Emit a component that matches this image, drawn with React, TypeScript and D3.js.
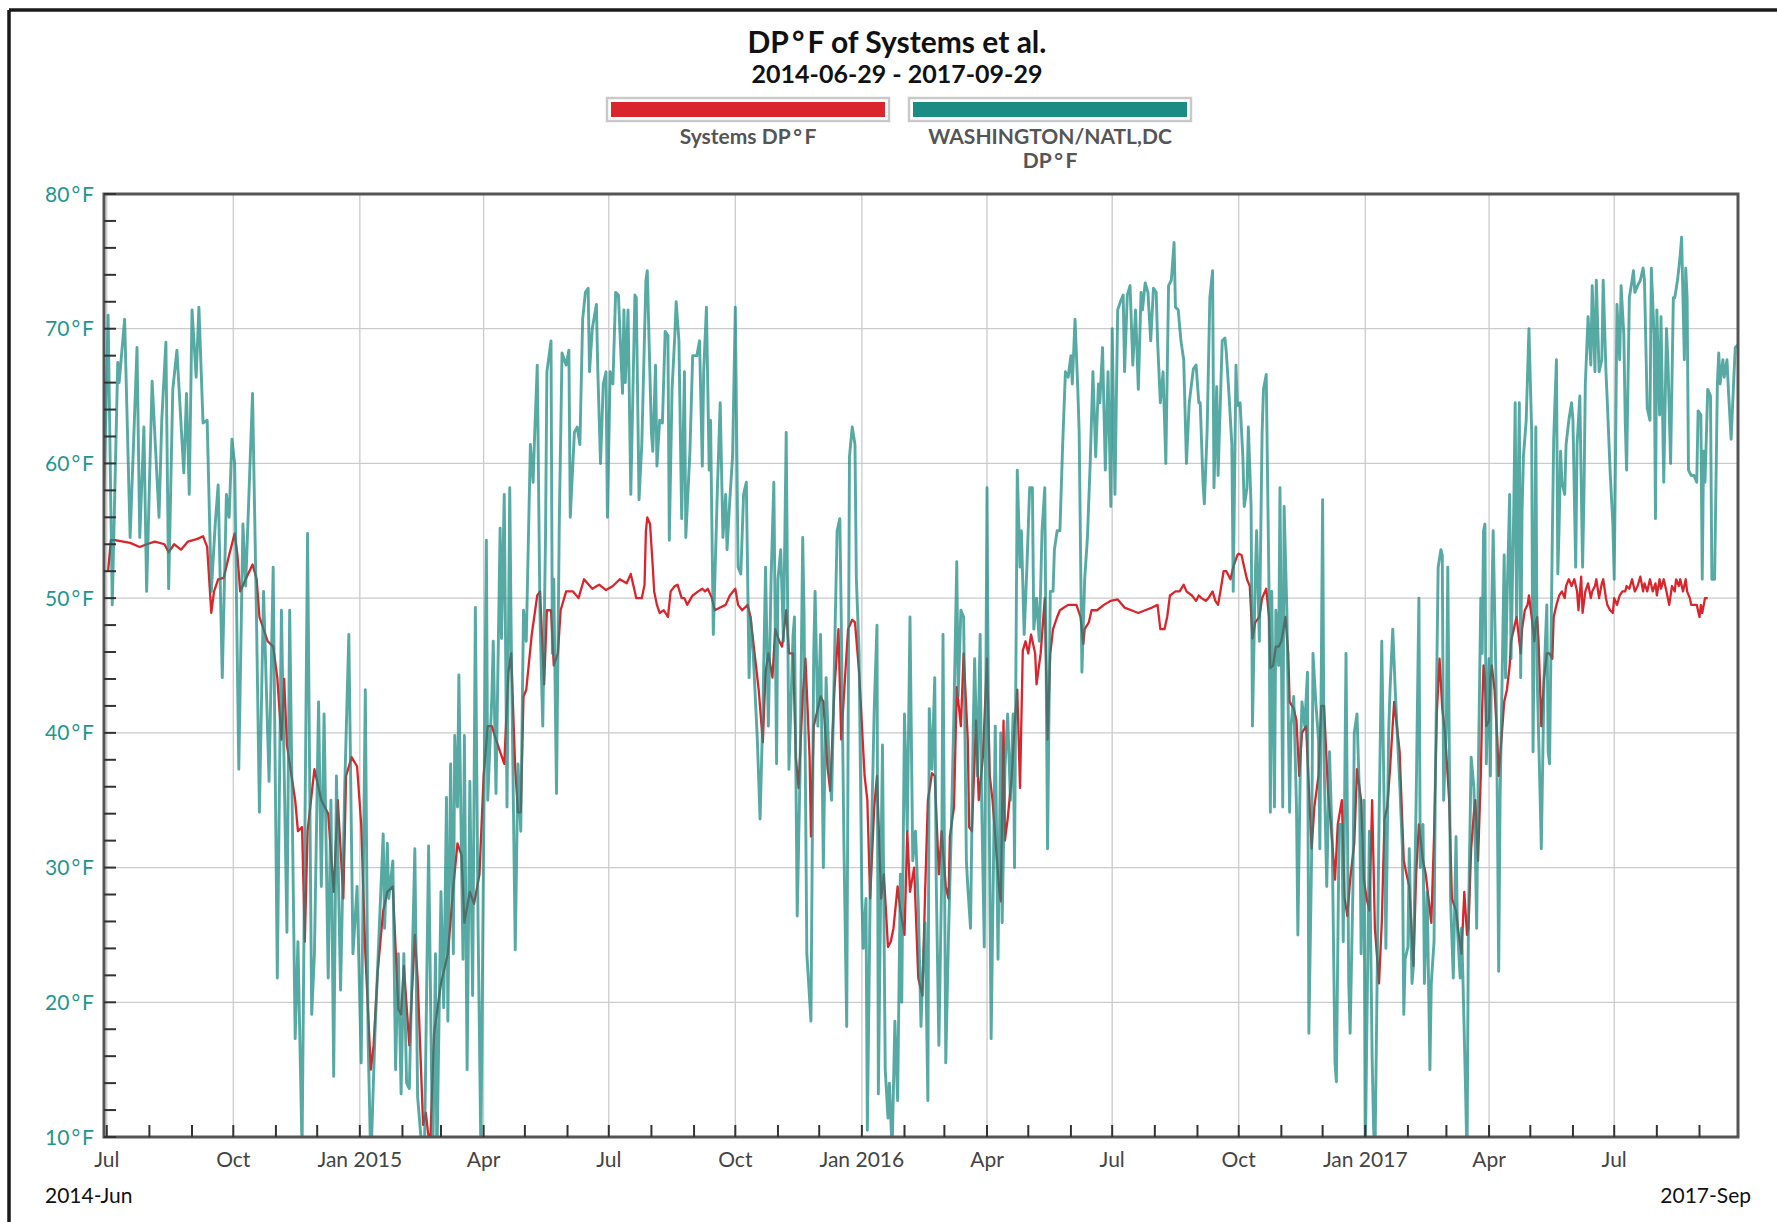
import * as d3 from "d3";

// dew point readings, [month-day, °F], one list per year and series
type Row = [string, number];

const rangeStart = "2014-06-29";
const rangeEnd = "2017-09-29";
const yTickValues = [10, 20, 30, 40, 50, 60, 70, 80];
const legendNames = ["Systems DP°F", "WASHINGTON/NATL,DC", "DP°F"];

const red2014: Row[] = [
  ["07-02", 52], ["07-04", 54.3], ["07-07", 54.3], ["07-18", 54.1], ["07-25", 53.8], ["07-30", 54], ["08-05", 54.2],
  ["08-12", 54], ["08-15", 53.4], ["08-19", 54], ["08-24", 53.6], ["08-29", 54.2], ["09-05", 54.4], ["09-09", 54.6],
  ["09-12", 53.8], ["09-15", 48.9], ["09-17", 50.5], ["09-20", 51.4], ["09-24", 51.5], ["09-28", 53.2], ["10-02", 54.8],
  ["10-04", 53.2], ["10-06", 50.5], ["10-10", 51.4], ["10-15", 52.5], ["10-18", 51.4], ["10-20", 48.6], ["10-26", 46.8],
  ["10-30", 46.4], ["11-02", 44.1], ["11-05", 39.5], ["11-07", 44], ["11-09", 39.1], ["11-15", 35], ["11-17", 32.7],
  ["11-20", 33], ["11-22", 24.5], ["11-24", 32.7], ["11-29", 37.3], ["12-04", 35], ["12-09", 34], ["12-13", 28.2],
  ["12-16", 35], ["12-20", 27.7], ["12-22", 36.8], ["12-26", 38.2], ["12-30", 37.5],
];

const red2015: Row[] = [
  ["01-02", 33.2], ["01-05", 23.6], ["01-09", 15], ["01-11", 16.8], ["01-14", 22.3], ["01-18", 26.8], ["01-21", 28.2],
  ["01-25", 28.6], ["01-27", 24], ["01-29", 19.5], ["01-31", 19.1], ["02-02", 22.7], ["02-06", 16.8], ["02-10", 25],
  ["02-12", 21.8], ["02-16", 10.9], ["02-18", 11.8], ["02-21", 9], ["02-24", 17.7], ["03-01", 21.4], ["03-06", 23.6],
  ["03-10", 28.6], ["03-13", 31.8], ["03-16", 30.9], ["03-18", 25.9], ["03-22", 28.2], ["03-25", 27.3], ["03-29", 29.5],
  ["04-01", 36.8], ["04-04", 40.5], ["04-07", 40.5], ["04-10", 39.5], ["04-16", 37.7], ["04-19", 44.5], ["04-21", 45.9],
  ["04-24", 37.3], ["04-26", 34.1], ["04-28", 34.1], ["04-30", 42.7], ["05-02", 43.2], ["05-06", 47.3], ["05-10", 50.2],
  ["05-12", 50.5], ["05-15", 43.6], ["05-17", 49.1], ["05-20", 49.1], ["05-22", 45], ["05-25", 45.9], ["05-27", 49.1],
  ["05-31", 50.5], ["06-05", 50.5], ["06-09", 50], ["06-13", 51.4], ["06-19", 50.7], ["06-24", 51], ["06-29", 50.6],
  ["07-04", 50.9], ["07-09", 51.4], ["07-14", 51.1], ["07-17", 51.8], ["07-21", 50], ["07-25", 50], ["07-27", 51],
  ["07-28", 55], ["07-29", 56], ["07-31", 55.5], ["08-02", 52.3], ["08-03", 50.5], ["08-05", 49.5], ["08-07", 48.9],
  ["08-10", 49.1], ["08-13", 48.6], ["08-15", 50.5], ["08-18", 50.9], ["08-20", 51], ["08-23", 50], ["08-25", 50],
  ["08-27", 49.5], ["08-31", 50.2], ["09-04", 50.5], ["09-07", 50.7], ["09-09", 50.5], ["09-11", 50.7], ["09-14", 50],
  ["09-16", 49.1], ["09-20", 49.3], ["09-24", 49.5], ["09-27", 50.2], ["10-01", 50.7], ["10-03", 49.5], ["10-06", 49.1],
  ["10-10", 49.5], ["10-12", 48.6], ["10-16", 45], ["10-18", 43.2], ["10-21", 39.3], ["10-23", 44.5], ["10-25", 45.9],
  ["10-28", 44.1], ["10-30", 47.7], ["11-02", 46.8], ["11-04", 46.4], ["11-07", 49.1], ["11-09", 45.9], ["11-12", 45.9],
  ["11-14", 38.2], ["11-16", 35.9], ["11-19", 42.7], ["11-21", 45.5], ["11-24", 38.2], ["11-25", 32.3], ["11-27", 40.5],
  ["11-30", 41.8], ["12-02", 42.7], ["12-04", 42.3], ["12-07", 37.5], ["12-09", 35.7], ["12-12", 43.2], ["12-15", 47.7],
  ["12-17", 39.5], ["12-20", 44.5], ["12-22", 47.7], ["12-25", 48.4], ["12-27", 48.2], ["12-30", 44.5],
];

const red2016: Row[] = [
  ["01-03", 36.8], ["01-05", 35], ["01-07", 27.7], ["01-10", 34.5], ["01-12", 36.8], ["01-15", 27.7], ["01-17", 29.5],
  ["01-20", 24.1], ["01-22", 24.5], ["01-24", 25.5], ["01-27", 28.6], ["01-29", 26.8], ["02-01", 25], ["02-03", 32.7],
  ["02-05", 28.2], ["02-08", 30], ["02-11", 21.8], ["02-14", 20.5], ["02-16", 28.2], ["02-18", 35], ["02-21", 37],
  ["02-23", 36.8], ["02-26", 29.5], ["02-28", 32.7], ["03-02", 28.6], ["03-04", 27.7], ["03-05", 32.3], ["03-08", 34.5],
  ["03-10", 43.4], ["03-13", 40.5], ["03-15", 45.9], ["03-18", 39.5], ["03-19", 33], ["03-21", 32.7], ["03-24", 40.9],
  ["03-26", 35], ["03-29", 38.2], ["04-01", 45.5], ["04-03", 36.8], ["04-05", 35], ["04-08", 30.9], ["04-10", 28.2],
  ["04-11", 27.5], ["04-13", 40.9], ["04-14", 32], ["04-16", 33.6], ["04-19", 36.8], ["04-21", 40.5], ["04-23", 43.2],
  ["04-25", 35.9], ["04-27", 46.1], ["04-29", 46.8], ["05-01", 45.9], ["05-03", 47.3], ["05-06", 45.9], ["05-07", 43.6],
  ["05-10", 45.9], ["05-13", 50], ["05-15", 39.5], ["05-17", 45.9], ["05-19", 47.7], ["05-22", 48.6], ["05-24", 49.1],
  ["05-27", 49.3], ["05-30", 49.5], ["06-02", 49.5], ["06-05", 49.5], ["06-08", 48.6], ["06-10", 46.6], ["06-11", 47.7],
  ["06-14", 48.2], ["06-16", 49.1], ["06-20", 49.1], ["06-25", 49.5], ["06-30", 49.8], ["07-05", 49.9], ["07-10", 49.3],
  ["07-15", 49.1], ["07-20", 48.9], ["07-25", 49.1], ["07-30", 49.3], ["08-03", 49.5], ["08-05", 47.7], ["08-08", 47.7],
  ["08-10", 48.6], ["08-12", 50.2], ["08-16", 50.5], ["08-19", 50.5], ["08-22", 51], ["08-24", 50.5], ["08-28", 50.2],
  ["08-31", 49.8], ["09-02", 50.2], ["09-04", 50], ["09-07", 49.8], ["09-09", 50], ["09-12", 50.5], ["09-14", 49.8],
  ["09-16", 49.5], ["09-18", 50.7], ["09-20", 52], ["09-22", 52], ["09-25", 51.4], ["09-27", 52.3], ["09-30", 53.2],
  ["10-01", 53.3], ["10-03", 53.2], ["10-05", 52.3], ["10-07", 51.4], ["10-09", 50.9], ["10-11", 47], ["10-13", 48.2],
  ["10-16", 48.6], ["10-18", 50], ["10-21", 50.7], ["10-23", 48.6], ["10-24", 44.8], ["10-26", 45], ["10-28", 46.4],
  ["10-30", 46.4], ["11-01", 46.8], ["11-04", 48.6], ["11-06", 45.9], ["11-07", 42.3], ["11-10", 41.8], ["11-12", 40.9],
  ["11-14", 36.8], ["11-16", 40], ["11-19", 40.5], ["11-21", 35.9], ["11-23", 31.4], ["11-25", 34.5], ["11-28", 36.8],
  ["11-30", 42], ["12-02", 42], ["12-05", 35.5], ["12-07", 33.2], ["12-10", 29.1], ["12-12", 33.2], ["12-15", 35],
  ["12-17", 27.7], ["12-19", 26.4], ["12-21", 29.1], ["12-24", 31.8], ["12-26", 37.3], ["12-29", 35], ["12-31", 29.1],
];

const red2017: Row[] = [
  ["01-02", 27.7], ["01-04", 26.8], ["01-06", 35], ["01-08", 25.5], ["01-11", 21.4], ["01-13", 25.9], ["01-15", 33.6],
  ["01-17", 34.5], ["01-19", 37.3], ["01-22", 42.3], ["01-24", 40.5], ["01-26", 38.6], ["01-29", 30.5], ["01-31", 29.5],
  ["02-02", 28.6], ["02-05", 22.7], ["02-07", 29.5], ["02-09", 33.2], ["02-12", 30.5], ["02-14", 29.5], ["02-16", 27.7],
  ["02-18", 25.9], ["02-20", 32.3], ["02-22", 41.4], ["02-24", 45.5], ["02-26", 41.8], ["02-28", 40], ["03-03", 35],
  ["03-05", 27.7], ["03-08", 26.8], ["03-10", 25], ["03-12", 23.6], ["03-14", 28.2], ["03-16", 25], ["03-17", 25.5],
  ["03-19", 31.4], ["03-21", 34.1], ["03-22", 35], ["03-24", 30.5], ["03-26", 36.8], ["03-27", 41.8], ["03-28", 45],
  ["03-29", 44.1], ["03-30", 40.5], ["04-01", 40.9], ["04-02", 44.1], ["04-03", 45], ["04-05", 43.2], ["04-07", 39.5],
  ["04-08", 36.8], ["04-10", 39.5], ["04-12", 42.3], ["04-14", 43.2], ["04-16", 45], ["04-17", 46.8], ["04-19", 47.7],
  ["04-21", 48.6], ["04-22", 47.7], ["04-24", 45.9], ["04-25", 47.7], ["04-27", 49.1], ["04-29", 49.5], ["04-30", 50.2],
  ["05-02", 48.6], ["05-04", 46.8], ["05-05", 48.2], ["05-06", 48.6], ["05-07", 46.8], ["05-09", 40.5], ["05-11", 44.1],
  ["05-13", 45.9], ["05-15", 45.9], ["05-17", 45.5], ["05-18", 48.6], ["05-20", 49.5], ["05-22", 50.2], ["05-24", 50.5],
  ["05-26", 50], ["05-27", 50.9], ["05-29", 51.4], ["05-31", 50.9], ["06-02", 51.4], ["06-04", 50.5], ["06-05", 49.1],
  ["06-07", 51.6], ["06-08", 48.9], ["06-10", 50.5], ["06-12", 51.1], ["06-14", 50], ["06-15", 50.5], ["06-17", 50.9],
  ["06-18", 51.4], ["06-20", 50], ["06-22", 51.1], ["06-23", 51.4], ["06-25", 50], ["06-26", 49.5], ["06-28", 49.1],
  ["06-30", 48.9], ["07-01", 50], ["07-03", 49.5], ["07-05", 50.2], ["07-07", 50.5], ["07-09", 50.5], ["07-10", 50.9],
  ["07-12", 50.7], ["07-14", 51.4], ["07-16", 50.5], ["07-18", 50.9], ["07-20", 51.6], ["07-22", 50.5], ["07-23", 51.1],
  ["07-25", 50.5], ["07-27", 51.4], ["07-29", 50.5], ["07-31", 51.1], ["08-01", 50.2], ["08-03", 51.4], ["08-04", 50.7],
  ["08-06", 51.4], ["08-08", 50.5], ["08-10", 49.5], ["08-12", 50.9], ["08-14", 50.5], ["08-15", 51.4], ["08-17", 50.9],
  ["08-18", 51.4], ["08-20", 50.5], ["08-22", 51.4], ["08-23", 50.5], ["08-25", 50], ["08-26", 49.5], ["08-28", 49.5],
  ["08-30", 49.5], ["09-01", 48.6], ["09-02", 49.5], ["09-03", 48.9], ["09-05", 50], ["09-07", 50],
];

const teal2014: Row[] = [
  ["06-29", 58], ["07-02", 71], ["07-05", 49.5], ["07-09", 67.5], ["07-10", 66], ["07-14", 70.7], ["07-18", 54.5],
  ["07-23", 68.6], ["07-25", 54.5], ["07-28", 62.7], ["07-30", 50.5], ["08-03", 66.1], ["08-08", 56], ["08-10", 63.2],
  ["08-13", 69], ["08-15", 50.7], ["08-18", 65.5], ["08-21", 68.4], ["08-26", 59.3], ["08-28", 65.2], ["08-30", 57.7],
  ["09-01", 71.4], ["09-04", 66.4], ["09-06", 71.6], ["09-09", 63], ["09-12", 63.2], ["09-15", 50.5], ["09-18", 55.7],
  ["09-20", 58.4], ["09-23", 44.1], ["09-26", 57.7], ["09-28", 56], ["09-30", 61.8], ["10-02", 60], ["10-05", 37.3],
  ["10-08", 55.5], ["10-10", 50.9], ["10-15", 65.2], ["10-18", 47.7], ["10-20", 34.1], ["10-23", 50.5], ["10-27", 36.4],
  ["10-30", 52.3], ["11-02", 21.8], ["11-05", 49.1], ["11-09", 25.2], ["11-11", 49.1], ["11-15", 17.3], ["11-17", 24.5],
  ["11-20", 9], ["11-24", 54.8], ["11-27", 19.1], ["11-29", 23.6], ["12-02", 42.3], ["12-04", 28.6], ["12-06", 41.4],
  ["12-09", 21.8], ["12-11", 35], ["12-13", 14.5], ["12-15", 36.8], ["12-18", 20.9], ["12-21", 35.9], ["12-24", 47.3],
  ["12-27", 23.6], ["12-30", 28.6],
];

const teal2015: Row[] = [
  ["01-02", 15.5], ["01-05", 43.2], ["01-07", 17.3], ["01-09", 8], ["01-12", 17.7], ["01-14", 22.7], ["01-18", 32.5],
  ["01-19", 25.5], ["01-21", 31.8], ["01-22", 27.7], ["01-25", 30.5], ["01-27", 15], ["01-29", 23.6], ["01-31", 13.2],
  ["02-02", 23.6], ["02-04", 14], ["02-06", 13.6], ["02-10", 31.4], ["02-12", 13], ["02-16", 8], ["02-17", 9],
  ["02-20", 31.6], ["02-23", 8], ["02-25", 23.6], ["02-26", 8], ["03-01", 28.2], ["03-03", 19.6], ["03-05", 35.2],
  ["03-06", 18.6], ["03-08", 37.7], ["03-10", 23.6], ["03-11", 39.8], ["03-13", 34.5], ["03-14", 44.3], ["03-17", 23.2],
  ["03-18", 39.8], ["03-20", 15], ["03-22", 36.4], ["03-24", 20.5], ["03-26", 49.3], ["03-28", 25.5], ["03-30", 9],
  ["04-03", 54.3], ["04-04", 35], ["04-07", 42.7], ["04-08", 46.8], ["04-10", 35.5], ["04-13", 55.2], ["04-14", 47],
  ["04-16", 57.7], ["04-18", 34.5], ["04-20", 58.2], ["04-21", 47.7], ["04-24", 23.9], ["04-26", 37.7], ["04-28", 32.7],
  ["04-30", 49.1], ["05-02", 46.8], ["05-05", 61.4], ["05-07", 58.6], ["05-08", 61.8], ["05-10", 67.3], ["05-12", 48.6],
  ["05-14", 40.5], ["05-16", 54.5], ["05-17", 66.8], ["05-20", 69.1], ["05-21", 45.9], ["05-22", 51.4], ["05-24", 35.5],
  ["05-26", 55.5], ["05-28", 68.2], ["05-31", 67.3], ["06-02", 68.4], ["06-03", 56], ["06-06", 62.3], ["06-08", 62.7],
  ["06-10", 61.4], ["06-12", 70.7], ["06-14", 72.7], ["06-16", 73], ["06-17", 66.8], ["06-19", 70], ["06-22", 71.8],
  ["06-23", 67], ["06-25", 60], ["06-27", 65.9], ["06-29", 66.8], ["06-30", 56], ["07-02", 66.8], ["07-04", 65.9],
  ["07-06", 72.7], ["07-08", 72.5], ["07-11", 65.2], ["07-12", 71.4], ["07-13", 66], ["07-15", 71.4], ["07-17", 57.7],
  ["07-20", 72.5], ["07-21", 72.3], ["07-23", 57.3], ["07-25", 61.4], ["07-28", 73.6], ["07-29", 74.3], ["08-01", 62.3],
  ["08-02", 60.9], ["08-04", 67.3], ["08-05", 59.8], ["08-07", 63.2], ["08-09", 63], ["08-11", 69.8], ["08-13", 69.5],
  ["08-14", 54.3], ["08-16", 65.5], ["08-18", 69.5], ["08-19", 72], ["08-21", 69.1], ["08-23", 55.9], ["08-25", 66.8],
  ["08-26", 54.5], ["08-29", 60.9], ["08-31", 68], ["09-03", 68], ["09-05", 69.1], ["09-07", 59.8], ["09-08", 66.8],
  ["09-10", 71.6], ["09-12", 59.5], ["09-13", 63.2], ["09-15", 47.3], ["09-18", 58.2], ["09-20", 64.5], ["09-22", 54.5],
  ["09-24", 57.7], ["09-25", 53.6], ["09-27", 57.3], ["09-29", 60.5], ["10-01", 71.6], ["10-03", 52.3], ["10-05", 51.8],
  ["10-07", 57.7], ["10-09", 58.6], ["10-11", 44.1], ["10-12", 48.6], ["10-14", 45.9], ["10-17", 39.5], ["10-19", 33.6],
  ["10-21", 41.4], ["10-23", 52.3], ["10-25", 40.5], ["10-27", 51.4], ["10-29", 58.6], ["10-31", 37.7], ["11-01", 51.4],
  ["11-03", 53.6], ["11-05", 46.8], ["11-07", 62.3], ["11-09", 37.3], ["11-12", 47.3], ["11-13", 48.6], ["11-15", 26.4],
  ["11-17", 36.8], ["11-19", 54.5], ["11-20", 48.6], ["11-22", 23.6], ["11-25", 18.6], ["11-27", 45.9], ["11-28", 50.5],
  ["11-30", 40.5], ["12-02", 47.3], ["12-04", 30], ["12-06", 44.1], ["12-08", 38.2], ["12-10", 35], ["12-14", 55],
  ["12-16", 55.9], ["12-17", 48.6], ["12-19", 31.4], ["12-21", 18.2], ["12-23", 60.5], ["12-25", 62.7], ["12-27", 61.4],
  ["12-28", 51.4], ["12-30", 45.9],
];

const teal2016: Row[] = [
  ["01-01", 27.7], ["01-02", 24], ["01-04", 27.7], ["01-05", 10.5], ["01-07", 27.7], ["01-10", 41.8], ["01-12", 48],
  ["01-13", 13.2], ["01-15", 31], ["01-16", 39.1], ["01-18", 15], ["01-20", 11.4], ["01-21", 14], ["01-23", 9],
  ["01-25", 18.6], ["01-27", 12.7], ["01-29", 29.5], ["01-30", 20], ["02-01", 41.4], ["02-03", 32.7], ["02-05", 48.6],
  ["02-07", 30.5], ["02-09", 32.7], ["02-11", 27.3], ["02-13", 18.2], ["02-14", 21.4], ["02-16", 25.9], ["02-18", 12.7],
  ["02-19", 41.8], ["02-21", 37.3], ["02-23", 44.1], ["02-24", 29.5], ["02-26", 16.8], ["02-28", 29], ["02-29", 47.3],
  ["03-02", 15.5], ["03-04", 25], ["03-06", 32.7], ["03-08", 41.8], ["03-10", 52.7], ["03-11", 42.7], ["03-13", 49.1],
  ["03-15", 48.6], ["03-17", 30.5], ["03-18", 28.6], ["03-20", 25.5], ["03-22", 40.5], ["03-23", 45.5], ["03-25", 36.8],
  ["03-27", 47.3], ["03-28", 35.5], ["03-30", 24.1], ["04-01", 58.2], ["04-02", 41], ["04-04", 17.3], ["04-06", 32.7],
  ["04-07", 40.5], ["04-09", 23.2], ["04-11", 40], ["04-12", 25.9], ["04-14", 37.3], ["04-16", 41.4], ["04-18", 35],
  ["04-20", 41.4], ["04-21", 30], ["04-23", 59.5], ["04-25", 52.3], ["04-26", 55], ["04-28", 47.3], ["04-30", 52.3],
  ["05-02", 58.2], ["05-04", 58.2], ["05-05", 47.7], ["05-07", 50], ["05-09", 46.8], ["05-11", 55], ["05-13", 58.2],
  ["05-15", 31.4], ["05-17", 50.5], ["05-19", 50.5], ["05-20", 53.6], ["05-22", 55], ["05-24", 55], ["05-26", 61.4],
  ["05-28", 66.8], ["05-30", 66.4], ["06-01", 68], ["06-02", 65.9], ["06-04", 70.7], ["06-06", 65.5], ["06-07", 62.3],
  ["06-09", 44.5], ["06-11", 51.4], ["06-13", 54.5], ["06-15", 60], ["06-17", 66.8], ["06-19", 60.5], ["06-21", 65.9],
  ["06-22", 64.5], ["06-24", 68.6], ["06-26", 59.5], ["06-28", 66.8], ["06-30", 56.8], ["07-01", 70], ["07-03", 57.7],
  ["07-05", 71.4], ["07-07", 72], ["07-09", 72.5], ["07-10", 66.8], ["07-12", 72.5], ["07-14", 73.2], ["07-16", 67.3],
  ["07-18", 71.4], ["07-20", 65.5], ["07-22", 72.7], ["07-23", 71.4], ["07-25", 73.4], ["07-27", 72.7], ["07-29", 69.1],
  ["07-31", 73], ["08-02", 72.7], ["08-03", 69.1], ["08-05", 64.5], ["08-07", 66.8], ["08-09", 60], ["08-11", 73.2],
  ["08-13", 73.6], ["08-15", 76.4], ["08-16", 71.6], ["08-18", 71.4], ["08-20", 69.1], ["08-22", 67.7], ["08-24", 60],
  ["08-26", 64.5], ["08-29", 67], ["08-31", 67.3], ["09-02", 64.5], ["09-03", 64.5], ["09-05", 58.6], ["09-06", 57],
  ["09-08", 62.3], ["09-10", 72.3], ["09-12", 74.3], ["09-13", 58.2], ["09-15", 65.7], ["09-16", 59.1], ["09-19", 69.1],
  ["09-21", 69.3], ["09-22", 68.2], ["09-24", 65], ["09-26", 61.4], ["09-27", 50.5], ["09-29", 67.3], ["09-30", 64.3],
  ["10-02", 64.5], ["10-04", 60.5], ["10-05", 56.8], ["10-07", 58.2], ["10-08", 62.7], ["10-10", 56.8], ["10-11", 40.5],
  ["10-13", 51.4], ["10-14", 55], ["10-16", 46.8], ["10-18", 62.3], ["10-19", 65.5], ["10-21", 66.6], ["10-23", 50.9],
  ["10-24", 34.1], ["10-25", 50.5], ["10-27", 34.5], ["10-28", 49.1], ["10-30", 45], ["10-31", 58.2], ["11-02", 34.5],
  ["11-03", 56.8], ["11-05", 49.1], ["11-07", 34.1], ["11-08", 40.5], ["11-10", 42.7], ["11-12", 34.5], ["11-13", 25],
  ["11-15", 39.1], ["11-16", 42.3], ["11-18", 40.5], ["11-20", 44.5], ["11-21", 17.7], ["11-23", 30.9], ["11-24", 45.9],
  ["11-26", 42.3], ["11-28", 39.5], ["11-29", 31.4], ["12-01", 57.3], ["12-02", 38.2], ["12-04", 28.6], ["12-06", 38.6],
  ["12-08", 31.8], ["12-10", 15.5], ["12-11", 14.1], ["12-13", 33.2], ["12-15", 33.2], ["12-16", 24.5], ["12-18", 45.9],
  ["12-20", 21.4], ["12-21", 17.7], ["12-23", 28.2], ["12-24", 40], ["12-26", 41.4], ["12-28", 34.5], ["12-29", 23.6],
  ["12-31", 35],
];

const teal2017: Row[] = [
  ["01-01", 8], ["01-02", 16.8], ["01-04", 32.7], ["01-06", 15.9], ["01-07", 10.9], ["01-08", 8], ["01-11", 33.2],
  ["01-13", 46.8], ["01-15", 32.7], ["01-16", 24], ["01-18", 40], ["01-19", 43.2], ["01-21", 47.7], ["01-23", 42.7],
  ["01-24", 40.5], ["01-26", 36.4], ["01-28", 31.4], ["01-29", 19.1], ["01-30", 23.2], ["02-01", 24.1], ["02-02", 31.4],
  ["02-04", 21.4], ["02-05", 22.7], ["02-07", 35], ["02-09", 50], ["02-10", 30], ["02-12", 33.2], ["02-13", 21.4],
  ["02-15", 28.2], ["02-17", 15], ["02-18", 21.4], ["02-20", 24.5], ["02-21", 36.8], ["02-23", 52.3], ["02-25", 53.6],
  ["02-26", 53.2], ["02-27", 35], ["03-01", 40.9], ["03-02", 52.3], ["03-04", 27.7], ["03-06", 21.8], ["03-08", 32.3],
  ["03-09", 25.5], ["03-11", 21.8], ["03-12", 25.5], ["03-13", 21.8], ["03-15", 13.2], ["03-16", 8], ["03-17", 25.9],
  ["03-19", 38.2], ["03-21", 35.9], ["03-22", 31.4], ["03-23", 25.5], ["03-24", 35.5], ["03-26", 50], ["03-27", 45.9],
  ["03-28", 55], ["03-29", 55.5], ["03-30", 37.7], ["04-01", 45.5], ["04-02", 36.8], ["04-03", 49.5], ["04-04", 55],
  ["04-06", 44.1], ["04-07", 35], ["04-08", 22.3], ["04-09", 35], ["04-10", 40.9], ["04-12", 53.2], ["04-13", 44.1],
  ["04-14", 49.5], ["04-16", 57.7], ["04-17", 45.5], ["04-19", 56.8], ["04-20", 64.5], ["04-21", 48.6], ["04-23", 64.5],
  ["04-24", 44.1], ["04-25", 56.4], ["04-26", 60.5], ["04-28", 63.2], ["04-30", 70], ["05-02", 62.3], ["05-03", 38.6],
  ["05-05", 62.7], ["05-06", 44.1], ["05-08", 35.9], ["05-09", 31.4], ["05-11", 44.1], ["05-13", 49.5], ["05-14", 38.6],
  ["05-15", 37.7], ["05-17", 54.5], ["05-18", 61.8], ["05-20", 67.7], ["05-21", 51.8], ["05-22", 55.5], ["05-23", 60.9],
  ["05-24", 58.6], ["05-26", 57.7], ["05-27", 61.4], ["05-29", 63.2], ["05-31", 64.5], ["06-01", 63.2], ["06-03", 52.3],
  ["06-04", 61.4], ["06-06", 65], ["06-08", 52.3], ["06-09", 57.7], ["06-10", 65.9], ["06-12", 70.9], ["06-14", 67.3],
  ["06-15", 73.2], ["06-17", 66.8], ["06-18", 73.6], ["06-20", 66.8], ["06-22", 67.7], ["06-23", 73.6], ["06-25", 66.8],
  ["06-26", 64.5], ["06-28", 59.5], ["06-30", 55.5], ["07-01", 51.4], ["07-02", 61], ["07-03", 71.8], ["07-05", 67.7],
  ["07-06", 73.2], ["07-08", 69.5], ["07-09", 63.2], ["07-10", 59.5], ["07-12", 72.3], ["07-14", 73.6], ["07-15", 74.3],
  ["07-16", 72.7], ["07-18", 73.2], ["07-20", 73.6], ["07-22", 74.5], ["07-23", 73.6], ["07-25", 64.1], ["07-27", 63.2],
  ["07-28", 74.5], ["07-30", 69.5], ["07-31", 55.9], ["08-01", 71.4], ["08-03", 63.6], ["08-04", 70.9], ["08-06", 58.6],
  ["08-08", 70], ["08-09", 67.7], ["08-11", 60], ["08-13", 72.3], ["08-14", 72.3], ["08-16", 73.6], ["08-17", 74.5],
  ["08-18", 75.5], ["08-19", 76.8], ["08-21", 67.7], ["08-22", 74.5], ["08-23", 72.3], ["08-24", 59.5], ["08-26", 59.1],
  ["08-28", 59.1], ["08-30", 58.6], ["08-31", 63.9], ["09-02", 63.6], ["09-03", 51.4], ["09-04", 60.9], ["09-05", 58.6],
  ["09-07", 65.5], ["09-09", 65], ["09-10", 51.4], ["09-12", 51.4], ["09-14", 65.9], ["09-15", 68.2], ["09-16", 65.9],
  ["09-18", 67.7], ["09-19", 66.4], ["09-21", 67.7], ["09-22", 65.5], ["09-24", 61.8], ["09-26", 66.4], ["09-27", 68.6],
  ["09-29", 68.8],
];

const parseDay = d3.timeParse("%Y-%m-%d");

type Pt = { date: Date; value: number };

function toPoints(year: number, rows: Row[]): Pt[] {
  return rows.map(([md, v]) => ({ date: parseDay(`${year}-${md}`) as Date, value: v }));
}

const redPoints = [
  ...toPoints(2014, red2014),
  ...toPoints(2015, red2015),
  ...toPoints(2016, red2016),
  ...toPoints(2017, red2017),
];
const tealPoints = [
  ...toPoints(2014, teal2014),
  ...toPoints(2015, teal2015),
  ...toPoints(2016, teal2016),
  ...toPoints(2017, teal2017),
];

const W = 1777;
const H = 1222;
const plot = { left: 104, right: 1738, top: 194, bottom: 1137 };

const RED = "#d9262c";
const TEAL = "#1b8c83";
const TEAL_TEXT = "#1f968c";
const FONT = "Lato, 'Open Sans', sans-serif";

// the source font sets the degree sign apart from its neighbours
function Deg({ s, gap }: { s: string; gap: number }) {
  const parts = s.split("°");
  return (
    <>
      {parts.map((p, i) => (
        <tspan key={i} dx={i > 0 ? gap : 0}>
          {i > 0 ? "" : p}
          {i > 0 ? <tspan>°</tspan> : null}
          {i > 0 ? <tspan dx={gap}>{p}</tspan> : null}
        </tspan>
      ))}
    </>
  );
}

export default function App() {
  const x = d3
    .scaleTime()
    .domain([parseDay(rangeStart) as Date, parseDay(rangeEnd) as Date])
    .range([plot.left, plot.right]);
  const y = d3.scaleLinear().domain([10, 80]).range([plot.bottom, plot.top]);

  const line = d3
    .line<Pt>()
    .x((d) => x(d.date))
    .y((d) => y(d.value));

  const months = d3.timeMonth.range(x.domain()[0], x.domain()[1]);
  const quarters = months.filter((m) => m.getMonth() % 3 === 0);
  const fmtMonth = d3.timeFormat("%b");
  const fmtYear = d3.timeFormat("%b %Y");
  const minorY = d3.range(10, 81, 2);

  return (
    <div style={{ position: "absolute", left: 0, top: 0, background: "#fff" }}>
      <svg width={W} height={H} style={{ display: "block", fontFamily: FONT }}>
        <rect width={W} height={H} fill="#fff" />
        {/* outer frame */}
        <line x1={9} x2={W} y1={10} y2={10} stroke="#1a1a1a" strokeWidth={3.5} />
        <line x1={9} x2={9} y1={10} y2={H} stroke="#1a1a1a" strokeWidth={3.5} />

        {/* title and legend */}
        <text x={897} y={53} textAnchor="middle" fontSize={30} fontWeight="bold" fill="#111">
          <Deg s="DP°F of Systems et al." gap={3} />
        </text>
        <text x={897} y={83} textAnchor="middle" fontSize={25} fontWeight="bold" fill="#111">
          {`${rangeStart} - ${rangeEnd}`}
        </text>
        <rect x={607} y={98} width={282} height={23} fill="#fff" stroke="#c9c9c9" strokeWidth={2.5} />
        <rect x={611} y={102} width={274} height={15} fill={RED} />
        <rect x={909} y={98} width={282} height={23} fill="#fff" stroke="#c9c9c9" strokeWidth={2.5} />
        <rect x={913} y={102} width={274} height={15} fill={TEAL} />
        <text x={748} y={144} textAnchor="middle" fontSize={21} fontWeight="bold" fill="#555">
          <Deg s={legendNames[0]} gap={2.5} />
        </text>
        <text x={1050} y={144} textAnchor="middle" fontSize={21} fontWeight="bold" fill="#555">
          {legendNames[1]}
        </text>
        <text x={1050} y={168} textAnchor="middle" fontSize={21} fontWeight="bold" fill="#555">
          <Deg s={legendNames[2]} gap={2.5} />
        </text>

        {/* grid */}
        {quarters.map((m) => (
          <line key={+m} x1={x(m)} x2={x(m)} y1={plot.top} y2={plot.bottom} stroke="#cbcbcb" strokeWidth={1.3} />
        ))}
        {yTickValues.map((v) => (
          <line key={v} x1={plot.left} x2={plot.right} y1={y(v)} y2={y(v)} stroke="#cbcbcb" strokeWidth={1.3} />
        ))}

        <defs>
          <clipPath id="plotClip">
            <rect x={plot.left} y={plot.top} width={plot.right - plot.left} height={plot.bottom - plot.top} />
          </clipPath>
        </defs>
        <g clipPath="url(#plotClip)" fill="none" strokeLinejoin="round">
          <path d={line(redPoints) || ""} stroke={RED} strokeWidth={2.3} />
          <path d={line(tealPoints) || ""} stroke={TEAL} strokeWidth={2.9} strokeOpacity={0.74} />
        </g>

        {/* frame */}
        <rect
          x={plot.left}
          y={plot.top}
          width={plot.right - plot.left}
          height={plot.bottom - plot.top}
          fill="none"
          stroke="#555"
          strokeWidth={3}
        />

        {/* ticks */}
        {minorY.map((v) => (
          <line key={v} x1={plot.left} x2={plot.left + 12} y1={y(v)} y2={y(v)} stroke="#333" strokeWidth={2} />
        ))}
        {months.map((m) => (
          <line key={+m} x1={x(m)} x2={x(m)} y1={plot.bottom} y2={plot.bottom - 12} stroke="#333" strokeWidth={2} />
        ))}

        {/* y labels */}
        {yTickValues.map((v) => (
          <text key={v} x={94} y={y(v)} dy="0.36em" textAnchor="end" fontSize={21} fill={TEAL_TEXT}>
            <Deg s={`${v}°F`} gap={2} />
          </text>
        ))}

        {/* x labels */}
        {quarters.map((m) => (
          <text key={+m} x={x(m)} y={1167} textAnchor="middle" fontSize={21} fill="#444">
            {m.getMonth() === 0 ? fmtYear(m) : fmtMonth(m)}
          </text>
        ))}
        <text x={45} y={1203} fontSize={21} fill="#111">
          2014-Jun
        </text>
        <text x={1751} y={1203} textAnchor="end" fontSize={21} fill="#111">
          2017-Sep
        </text>
      </svg>
    </div>
  );
}
